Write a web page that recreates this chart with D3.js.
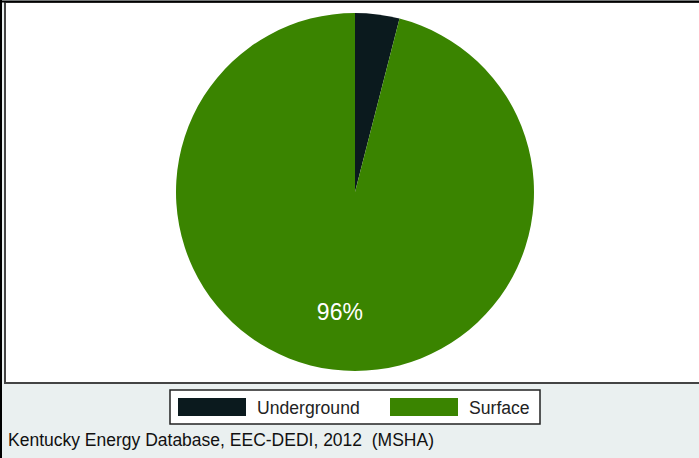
<!DOCTYPE html>
<html><head><meta charset="utf-8">
<script src="https://cdn.jsdelivr.net/npm/d3@7"></script>
<style>body{margin:0;background:#eaf0f0;}svg{display:block;}text{white-space:pre;}</style>
</head><body>
<svg id="c" width="699" height="458"></svg>
<script>
const categories = ["Underground", "Surface"];
const values = [4, 96];
const colors = ["#0b1a1e", "#3a8400"];
const labels = ["", "96%"];
const source = "Kentucky Energy Database, EEC-DEDI, 2012  (MSHA)";

const svg = d3.select("#c");
svg.append("rect").attr("x",0).attr("y",0).attr("width",699).attr("height",458).attr("fill","#eaf0f0");
svg.append("rect").attr("x",0).attr("y",0).attr("width",2).attr("height",458).attr("fill","#000");
svg.append("rect").attr("x",5).attr("y",2).attr("width",700).attr("height",381)
  .attr("fill","#fff").attr("stroke","#444").attr("stroke-width",2);
svg.append("line").attr("x1",0).attr("x2",699).attr("y1",1.5).attr("y2",1.5).attr("stroke","#000").attr("stroke-width",2);

const cx = 355, cy = 192, r = 179;
const pie = d3.pie().sort(null).value(d=>d)(values);
const arc = d3.arc().innerRadius(0).outerRadius(r);
const g = svg.append("g").attr("transform",`translate(${cx},${cy})`);
g.selectAll("path").data(pie).join("path").attr("d",arc).attr("fill",(d,i)=>colors[i]);
const lab = d3.arc().innerRadius(r*0.675).outerRadius(r*0.675);
g.selectAll("text").data(pie).join("text")
  .attr("transform",d=>`translate(${lab.centroid(d)})`)
  .attr("text-anchor","middle").attr("dy","0.35em")
  .attr("font-family","Liberation Sans, Arial, sans-serif").attr("font-size",23)
  .attr("fill","#fff").text((d,i)=>labels[i]);

// legend
const lg = svg.append("g");
lg.append("rect").attr("x",170).attr("y",390).attr("width",370).attr("height",34)
  .attr("fill","#fff").attr("stroke","#222").attr("stroke-width",1.5);
const keyX = [178, 390];
categories.forEach((c,i)=>{
  lg.append("rect").attr("x",keyX[i]).attr("y",398).attr("width",68).attr("height",18).attr("fill",colors[i]);
  lg.append("text").attr("x",keyX[i]+79).attr("y",414)
    .attr("font-family","Liberation Sans, Arial, sans-serif").attr("font-size",17.6)
    .attr("fill","#222").text(c);
});
svg.append("text").attr("x",8).attr("y",446)
  .attr("font-family","Liberation Sans, Arial, sans-serif").attr("font-size",17.5)
  .attr("fill","#111").text(source);
</script>
</body></html>
